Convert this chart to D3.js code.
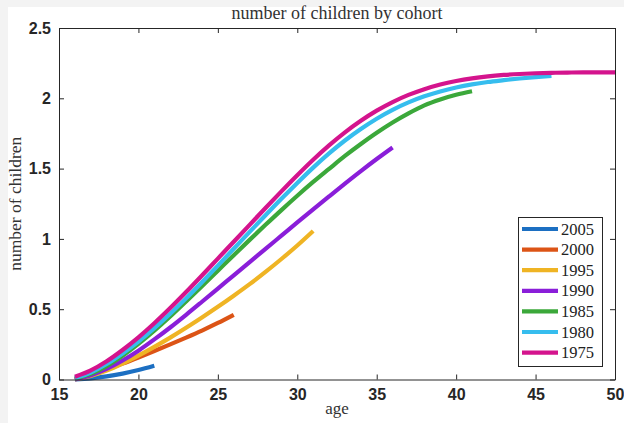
<!DOCTYPE html>
<html>
<head>
<meta charset="utf-8">
<script src="https://cdn.jsdelivr.net/npm/d3@7"></script>
<style>
  body { margin: 0; background: #f3f3f3; }
  svg { display: block; }
</style>
</head>
<body>
<script>
// cohorts, drawn oldest last so 1975 sits on top
var cohorts = ["2005", "2000", "1995", "1990", "1985", "1980", "1975"];
var colors = ["#1c6fc2", "#dc5416", "#efb424", "#8a1ed9", "#3ba83a", "#36bdee", "#d4148d"];

// ages are 16..end, one value per year
var v2005 = [0, 0.008, 0.022, 0.042, 0.067, 0.098];
var v2000 = [0.005, 0.035, 0.072, 0.113, 0.157, 0.203, 0.25, 0.298, 0.348, 0.402, 0.46];
var v1995 = [0, 0.025, 0.063, 0.113, 0.17, 0.232, 0.298, 0.368, 0.441, 0.517, 0.596, 0.678, 0.765, 0.857, 0.953, 1.056];
var v1990 = [0, 0.03, 0.075, 0.135, 0.205, 0.285, 0.37, 0.46, 0.553, 0.647, 0.741, 0.835, 0.929, 1.023, 1.117, 1.21,
             1.302, 1.393, 1.482, 1.568, 1.65];
var v1985 = [0.005, 0.04, 0.095, 0.168, 0.253, 0.347, 0.448, 0.555, 0.664, 0.774, 0.884, 0.993, 1.10, 1.205, 1.307, 1.405,
             1.498, 1.59, 1.675, 1.755, 1.828, 1.893, 1.95, 1.992, 2.025, 2.05];
var v1980 = [0.01, 0.05, 0.11, 0.185, 0.27, 0.365, 0.468, 0.577, 0.692, 0.81, 0.93, 1.05, 1.168, 1.285, 1.398, 1.507,
             1.608, 1.70, 1.782, 1.855, 1.918, 1.971, 2.014, 2.049, 2.077, 2.099, 2.116, 2.129, 2.141, 2.151, 2.16];
var v1975 = [0.02, 0.065, 0.13, 0.21, 0.30, 0.40, 0.508, 0.622, 0.74, 0.86, 0.98, 1.10, 1.22, 1.338, 1.453, 1.563,
             1.665, 1.758, 1.84, 1.912, 1.973, 2.024, 2.065, 2.098, 2.123, 2.142, 2.156, 2.166, 2.173, 2.178, 2.181,
             2.183, 2.184, 2.185, 2.185];
var series = [v2005, v2000, v1995, v1990, v1985, v1980, v1975];
var firstAge = 16;

var xTicks = [15, 20, 25, 30, 35, 40, 45, 50];
var yTicks = [0, 0.5, 1, 1.5, 2, 2.5];

var W = 624, H = 423;
var m = { left: 59, right: 615, top: 28, bottom: 379.5 };
var axisColor = "#262626";

var svg = d3.select("body").append("svg").attr("width", W).attr("height", H);
svg.append("rect").attr("x", 8).attr("y", 7).attr("width", W - 8).attr("height", H - 7).attr("fill", "#ffffff");

var x = d3.scaleLinear().domain([15, 50]).range([m.left, m.right]);
var y = d3.scaleLinear().domain([0, 2.5]).range([m.bottom, m.top]);

// lines
var line = d3.line()
  .x(function(d, i) { return x(firstAge + i); })
  .y(function(d) { return y(d); })
  .curve(d3.curveMonotoneX);

var plot = svg.append("g");
series.forEach(function(s, k) {
  plot.append("path")
    .attr("d", line(s))
    .attr("fill", "none")
    .attr("stroke", colors[k])
    .attr("stroke-width", 4.2);
});

// axes with inward ticks on all four sides
var tickFont = "'Liberation Sans', Arial, sans-serif";
var xAxisB = d3.axisBottom(x).tickValues(xTicks).tickSizeInner(-5).tickSizeOuter(0).tickPadding(9);
var xAxisT = d3.axisTop(x).tickValues(xTicks).tickSizeInner(-5).tickSizeOuter(0).tickFormat("");
var yAxisL = d3.axisLeft(y).tickValues(yTicks).tickSizeInner(-5).tickSizeOuter(0).tickPadding(8).tickFormat(d3.format("~g"));
var yAxisR = d3.axisRight(y).tickValues(yTicks).tickSizeInner(-5).tickSizeOuter(0).tickFormat("");

function styleAxis(g) {
  g.select(".domain").attr("stroke", axisColor);
  g.selectAll(".tick line").attr("stroke", axisColor);
  g.selectAll(".tick text")
    .attr("fill", axisColor)
    .style("font-family", tickFont)
    .style("font-weight", "bold")
    .style("font-size", "16px");
}

svg.append("g").attr("transform", "translate(0," + m.bottom + ")").call(xAxisB).call(styleAxis);
svg.append("g").attr("transform", "translate(0," + m.top + ")").call(xAxisT).call(styleAxis);
svg.append("g").attr("transform", "translate(" + m.left + ",0)").call(yAxisL).call(styleAxis);
svg.append("g").attr("transform", "translate(" + m.right + ",0)").call(yAxisR).call(styleAxis);

// titles
var serif = "'Liberation Serif', 'Times New Roman', serif";
svg.append("text")
  .attr("x", (m.left + m.right) / 2).attr("y", 19)
  .attr("text-anchor", "middle")
  .style("font-family", serif).style("font-size", "18px").attr("fill", "#333")
  .text("number of children by cohort");

svg.append("text")
  .attr("x", (m.left + m.right) / 2).attr("y", 414)
  .attr("text-anchor", "middle")
  .style("font-family", serif).style("font-size", "17px").attr("fill", "#333")
  .text("age");

svg.append("text")
  .attr("transform", "translate(21," + ((m.top + m.bottom) / 2) + ") rotate(-90)")
  .attr("text-anchor", "middle")
  .style("font-family", serif).style("font-size", "17.5px").attr("fill", "#333")
  .text("number of children");

// legend
var lg = svg.append("g");
lg.append("rect")
  .attr("x", 518.5).attr("y", 217.5).attr("width", 84).attr("height", 149)
  .attr("fill", "#fff").attr("stroke", axisColor).attr("stroke-width", 1);

cohorts.forEach(function(c, k) {
  var ly = 229 + k * 20.6;
  lg.append("line")
    .attr("x1", 522).attr("x2", 558).attr("y1", ly).attr("y2", ly)
    .attr("stroke", colors[k]).attr("stroke-width", 4.2);
  lg.append("text")
    .attr("x", 561).attr("y", ly + 5.5)
    .style("font-family", serif).style("font-size", "16.5px").attr("fill", "#222")
    .text(c);
});
</script>
</body>
</html>
